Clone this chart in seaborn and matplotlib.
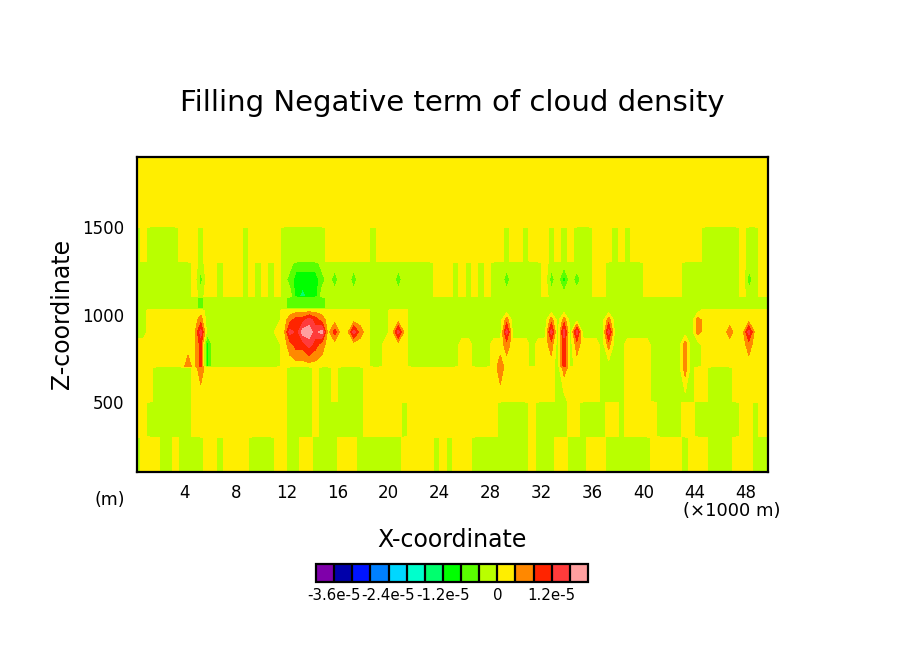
import numpy as np
import seaborn as sns
import matplotlib
matplotlib.use("Agg")
import matplotlib.pyplot as plt
from matplotlib.ticker import MultipleLocator

# ---------------- data ----------------
TITLE = "Filling Negative term of cloud density"
X_LABEL = "X-coordinate"
Z_LABEL = "Z-coordinate"
X_UNIT = "(\u00d71000 m)"
Z_UNIT = "(m)"

X_TICKS = [4, 8, 12, 16, 20, 24, 28, 32, 36, 40, 44, 48]
Z_TICKS = [500, 1000, 1500]
X_RANGE = (0.25, 49.75)
Z_RANGE = (100, 1900)

# grid columns: 0.5 km cells, centres 0.25 ... 49.75
X_CENTERS = np.arange(0.25, 50.0, 0.5)

# contour levels and their colours (15 shaded intervals)
LEVELS = [-4.0e-5, -3.6e-5, -3.2e-5, -2.8e-5, -2.4e-5, -2.0e-5, -1.6e-5, -1.2e-5,
          -0.8e-5, -0.4e-5, 0.0, 0.4e-5, 0.8e-5, 1.2e-5, 1.6e-5, 2.0e-5]
COLORS = ["#7f00aa", "#0000aa", "#0014ff", "#0080ff", "#00d7ff", "#00ffcc",
          "#00ff6e", "#00ff00", "#5aff00", "#b9ff00", "#ffee00", "#ff8800",
          "#ff2400", "#ff3b3b", "#ff9f9f"]
CB_TICKS = [-3.6e-5, -2.4e-5, -1.2e-5, 0.0, 1.2e-5]
CB_LABELS = ["-3.6e-5", "-2.4e-5", "-1.2e-5", "0", "1.2e-5"]

# value read for each colour class
CODE_VALUES = {"y": 0.2e-5, "g": -0.2e-5, "c": -0.6e-5, "G": -1.0e-5,
               "s": -1.4e-5, "o": 0.6e-5, "r": 1.0e-5, "R": 1.4e-5, "p": 1.8e-5}

# band rows (one character per 0.5 km column)
B1 = "g yyy gg y gggg yy g yyyy gggg yy gg yy gggg yyy ggggggg yyyyy gygy yy ggggggggg y ggg yy ggg yyy ggggggg yyyyy g yyy gggg yyy ggg"
B2 = "yy ggggggg yyyyyyyyyyyyyyy gggg y ggggggg yyyyyy g yyyyyyyyyyyyyy ggggg y ggggg yy gggg yy g yyyyy gggg yy ggggggg yy g yy"
B3 = "yyy gggggg yyyyyyyyyyyyyyy gggg y gg y gggg yyyyyyyyyyyyyyyyyyyyy y yyyyyyyy gg yyyyy gggg yyyy ggggggg yy gggg yyyyyy"
B4_LO = "yyyyyyyyyy y G ggggggggggg yyyyyyyyyyyyyy gg yyyy gggggggg yy ggg y y y yyy g yy y g g g y yyy g g gg yyyy ggggg g gg yyyyyyyyyyy"
B4_MID = "gg yyyyyyyy R ggggggggggg yy R r p p R p y r y y R o y ggg y R y ggggggggggggggg R gggggg R g R g R gggg R ggggggggggggg o yyyy o yy R yyy"
B4_HI = "gg yyyyyyyy y gggggggggggg yyyyyyyyyyyyyy ggg yyy ggggggggggggggg g gggggg g g g g g gggg g ggggggggggggg g yyyyyyyyyyy"
B5 = "gggggggggg c ggggggggggggg cccccc gggggggggg gggggggggg gggggggggg gggggggggg gggggggggg gggggggggg gggggggggg"
B6 = "ggggggggg y g yy g yyy g y g y g y gggggggggggggggggggggggg yyy g y g y g y gggggggg y ggggggg yy gggggg yyyyyy ggggggggg y gg yy"
B7 = "g y ggggg yyy g yyyyyy g yyyyy gg ggggg yyyyyyy g yyyyyyyyyyyyyyyyyyyy g yy g yyy g y g y ggg yyy g y g yyyyyyyyyyy gggggg y gg yy"
TOP = "y" * 100

# (height in m, band row)
ROWS = [(100, B1), (295, B1), (305, B2), (495, B2), (505, B3), (695, B3),
        (705, B4_LO), (830, B4_LO), (900, B4_MID), (970, B4_HI), (1025, B4_HI),
        (1035, B5), (1095, B5), (1105, B6), (1200, B6), (1295, B6),
        (1305, B7), (1495, B7), (1505, TOP), (1900, TOP)]

# local features: (x km, z m, class)
SPOTS = [
    # small orange patches in the lower layer
    (4.25, 705, "o"), (28.75, 695, "o"), (28.75, 705, "o"),
    # rim of the large positive cell near x = 13 km
    (12.25, 830, "o"), (12.75, 830, "r"), (13.25, 830, "r"), (13.75, 830, "R"), (14.25, 830, "r"), (14.75, 830, "o"),
    (12.25, 970, "o"), (12.75, 970, "r"), (13.25, 970, "r"), (13.75, 970, "R"), (14.25, 970, "r"), (14.75, 970, "o"),
    (48.25, 830, "o"),
    # thin vertical positive spikes
    (5.25, 695, "o"), (5.25, 705, "r"), (5.25, 830, "r"), (5.25, 970, "o"),
    (33.75, 695, "o"), (33.75, 705, "r"), (33.75, 830, "r"), (33.75, 970, "o"),
    (29.25, 830, "o"), (29.25, 970, "o"),
    (32.75, 830, "o"), (32.75, 970, "o"),
    (34.75, 830, "o"),
    (37.25, 830, "o"), (37.25, 970, "o"),
    (43.25, 695, "o"), (43.25, 705, "o"), (43.25, 830, "o"),
    (44.25, 970, "o"),
    # negative cells in the upper layer
    (5.25, 1200, "c"),
    (12.25, 1200, "c"), (12.75, 1200, "G"), (13.25, 1200, "G"), (13.75, 1200, "G"), (14.25, 1200, "G"), (14.75, 1200, "c"),
    (12.75, 1105, "G"), (13.25, 1105, "s"), (13.75, 1105, "G"), (14.25, 1105, "G"),
    (12.75, 1295, "c"), (13.25, 1295, "c"), (13.75, 1295, "c"), (14.25, 1295, "c"),
    (15.75, 1200, "c"), (17.25, 1200, "c"), (20.75, 1200, "c"),
    (29.25, 1200, "c"), (32.75, 1200, "c"), (33.75, 1200, "G"), (34.75, 1200, "c"), (48.25, 1200, "c"),
]

# ---------------- build field ----------------
Z_ROWS = np.array([z for z, _ in ROWS], dtype=float)
codes = []
for z, s in ROWS:
    s = s.replace(" ", "")
    assert len(s) == 100, (z, len(s))
    codes.append(list(s))
for xk, zz, c in SPOTS:
    i = int(np.argmin(np.abs(X_CENTERS - xk)))
    j = int(np.argmin(np.abs(Z_ROWS - zz)))
    codes[j][i] = c
FIELD = np.array([[CODE_VALUES[c] for c in row] for row in codes])

# ---------------- plot ----------------
sns.set_style("white")
plt.rcParams["font.family"] = ["DejaVu Sans"]
plt.rcParams["text.color"] = "black"
plt.rcParams["axes.labelcolor"] = "black"
plt.rcParams["xtick.color"] = "black"
plt.rcParams["ytick.color"] = "black"

W, H = 904, 654
fig = plt.figure(figsize=(W / 100, H / 100), dpi=100)
fig.patch.set_facecolor("white")

ax = fig.add_axes([137 / W, 1 - 472 / H, 631 / W, 315 / H])
palette = sns.color_palette(COLORS)
cs = ax.contourf(X_CENTERS, Z_ROWS, FIELD, levels=LEVELS, colors=palette)
ax.set_xlim(*X_RANGE)
ax.set_ylim(*Z_RANGE)

ax.set_xticks(X_TICKS)
ax.set_xticklabels([str(t) for t in X_TICKS])
ax.set_yticks(Z_TICKS)
ax.set_yticklabels([str(t) for t in Z_TICKS])
ax.xaxis.set_minor_locator(MultipleLocator(2))
ax.yaxis.set_minor_locator(MultipleLocator(100))
ax.tick_params(which="both", direction="in", top=True, right=True, colors="black",
               labelcolor="black")
ax.tick_params(which="major", length=6, width=2, labelsize=12, pad=9)
ax.tick_params(which="minor", length=3, width=1.2)
for sp in ax.spines.values():
    sp.set_linewidth(1.6)
    sp.set_color("black")

fig.text(452 / W, 1 - 103 / H, TITLE, ha="center", va="center", fontsize=21, color="black")
fig.text(452 / W, 1 - 540 / H, X_LABEL, ha="center", va="center", fontsize=17, color="black")
fig.text(62 / W, 1 - 314 / H, Z_LABEL, ha="center", va="center", fontsize=17, rotation=90,
         color="black")
fig.text(110 / W, 1 - 500 / H, Z_UNIT, ha="center", va="center", fontsize=12.5, color="black")
fig.text(732 / W, 1 - 511 / H, X_UNIT, ha="center", va="center", fontsize=13, color="black")

cax = fig.add_axes([316 / W, 1 - 582 / H, 272 / W, 18 / H])
cb = fig.colorbar(cs, cax=cax, orientation="horizontal", ticks=CB_TICKS, drawedges=True)
cb.ax.set_xticklabels(CB_LABELS)
cb.ax.tick_params(length=0, labelsize=10.8, pad=4, labelcolor="black")
cb.outline.set_linewidth(1.6)
cb.outline.set_edgecolor("black")
cb.dividers.set_linewidth(1.6)
cb.dividers.set_color("black")

fig.savefig("out.png", dpi=100, facecolor="white")
